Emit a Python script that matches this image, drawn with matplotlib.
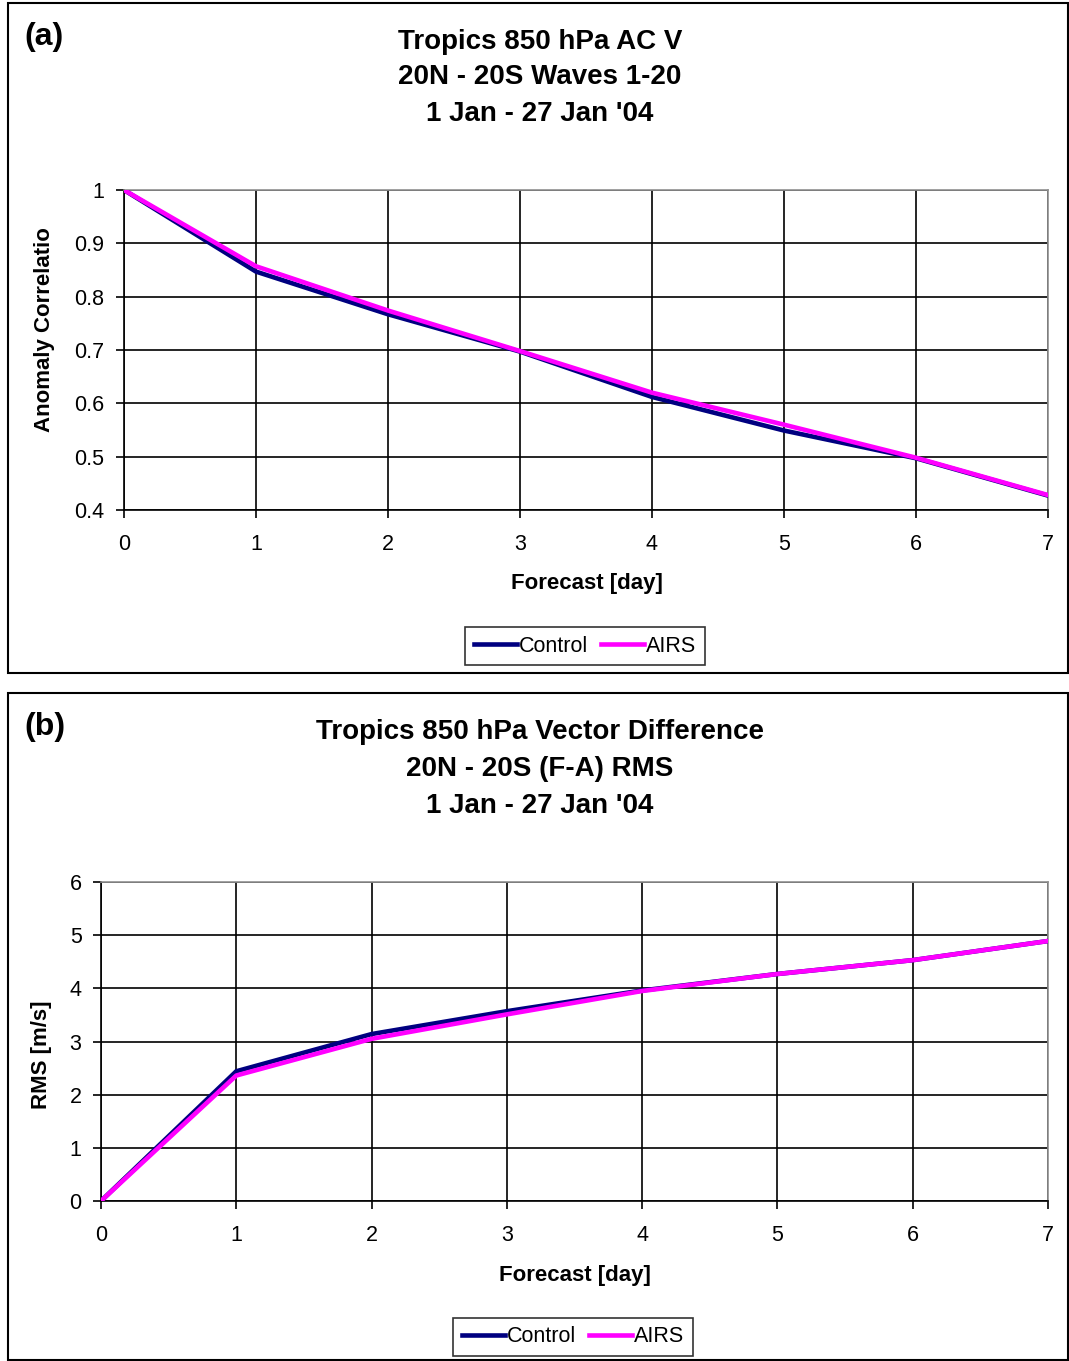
import matplotlib
matplotlib.use("Agg")
import matplotlib.pyplot as plt
from matplotlib.patches import Rectangle

plt.rcParams['font.family'] = ['Liberation Sans', 'DejaVu Sans']

days = [0, 1, 2, 3, 4, 5, 6, 7]
ac_control = [1.0, 0.847, 0.767, 0.697, 0.612, 0.549, 0.497, 0.427]
ac_airs = [1.0, 0.857, 0.774, 0.698, 0.620, 0.560, 0.498, 0.428]
rms_control = [0.0, 2.44, 3.14, 3.57, 3.96, 4.27, 4.53, 4.89]
rms_airs = [0.0, 2.36, 3.05, 3.51, 3.95, 4.27, 4.53, 4.89]

W, H = 1069, 1361
fig = plt.figure(figsize=(W / 100, H / 100), dpi=100)

def fx(x):
    return x / W

def fy(y):
    return 1 - y / H

# outer panel boxes
for (x0, y0, x1, y1) in [(8, 3, 1068, 673), (8, 693, 1068, 1360)]:
    fig.patches.append(Rectangle((fx(x0), fy(y1)), fx(x1 - x0), (y1 - y0) / H,
                                 transform=fig.transFigure, fill=False,
                                 edgecolor='black', linewidth=1.5))

def make_panel(left, right, top, bottom, x, yc, ya, ylim, yticks, yticklabels,
               ylabel, title_lines, title_ys, title_x, label, label_y,
               xlabel_y, xlabel_x, ylabel_x, ylabel_y, legend_center):
    ax = fig.add_axes([fx(left), fy(bottom), fx(right - left), (bottom - top) / H])
    ax.plot(x, yc, color='#000080', lw=3.3, solid_joinstyle='round', zorder=3, label='Control')
    ax.plot(x, ya, color='#FF00FF', lw=3.3, solid_joinstyle='round', zorder=4, label='AIRS')
    ax.set_xlim(0, 7)
    ax.set_ylim(*ylim)
    ax.set_xticks(days)
    ax.set_yticks(yticks)
    ax.set_yticklabels(yticklabels)
    ax.grid(True, color='black', lw=1.2)
    ax.set_axisbelow(True)
    for s in ['top', 'right']:
        ax.spines[s].set_color('#909090')
        ax.spines[s].set_linewidth(1.2)
    for s in ['left', 'bottom']:
        ax.spines[s].set_color('black')
        ax.spines[s].set_linewidth(1.2)
    ax.tick_params(direction='out', length=6, width=1.2, labelsize=15.5, pad=11)
    ax.tick_params(axis='y', pad=8)
    for y, t in zip(title_ys, title_lines):
        fig.text(fx(title_x), fy(y), t, ha='center', va='center', fontsize=20,
                 fontweight='bold')
    fig.text(fx(24), fy(label_y), label, ha='left', va='center', fontsize=23,
             fontweight='bold')
    fig.text(fx(xlabel_x), fy(xlabel_y), 'Forecast [day]', ha='center', va='center',
             fontsize=16, fontweight='bold')
    fig.text(fx(ylabel_x), fy(ylabel_y), ylabel, ha='center', va='center',
             rotation=90, fontsize=16, fontweight='bold')
    leg = ax.legend(loc='center', bbox_to_anchor=(fx(legend_center[0]), fy(legend_center[1])),
                    bbox_transform=fig.transFigure, ncol=2, frameon=True, fancybox=False,
                    fontsize=15.5, handlelength=2.0, handletextpad=0.1, columnspacing=0.6,
                    borderpad=0.4, edgecolor='black')
    leg.get_frame().set_linewidth(1.2)
    return ax

make_panel(124, 1048, 190, 510, days, ac_control, ac_airs, (0.4, 1.0),
           [0.4, 0.5, 0.6, 0.7, 0.8, 0.9, 1.0],
           ['0.4', '0.5', '0.6', '0.7', '0.8', '0.9', '1'],
           'Anomaly Correlatio',
           ['Tropics 850 hPa AC V', '20N - 20S Waves 1-20', "1 Jan - 27 Jan '04"],
           [42, 77, 114], 540, '(a)', 37, 583, 587, 45, 330, (585, 646))

make_panel(101, 1048, 882, 1201, days, rms_control, rms_airs, (0, 6),
           [0, 1, 2, 3, 4, 5, 6],
           ['0', '1', '2', '3', '4', '5', '6'],
           'RMS [m/s]',
           ['Tropics 850 hPa Vector Difference', '20N - 20S (F-A) RMS', "1 Jan - 27 Jan '04"],
           [732, 769, 806], 540, '(b)', 727, 1275, 575, 42, 1055, (573, 1337))

fig.savefig('out.png', dpi=100)
